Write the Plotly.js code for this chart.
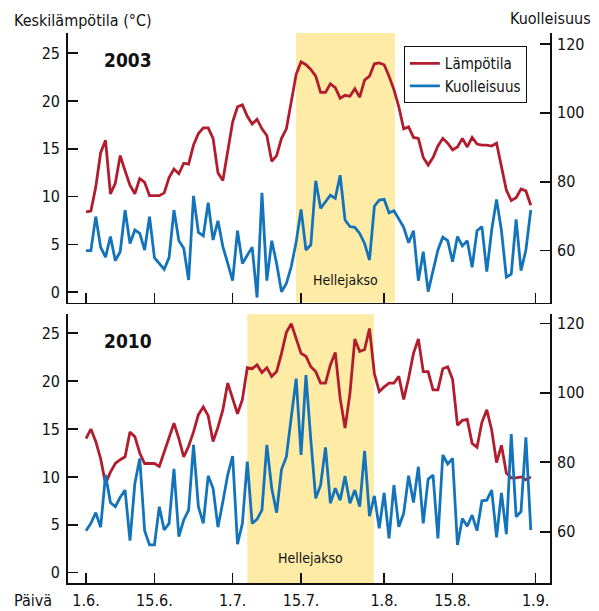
<!DOCTYPE html>
<html>
<head>
<meta charset="utf-8">
<script src="https://cdn.plot.ly/plotly-3.0.1.min.js"></script>
<style>html,body{margin:0;padding:0;background:#fff;}#chart{width:599px;height:611px;}</style>
</head>
<body>
<div id="chart"></div>
<script>
// ---- Data (daily values, 1.6. – 31.8.) ----
const temp2003 = [8.4,8.5,11.0,14.6,15.9,10.3,11.4,14.3,12.7,11.2,10.3,11.9,11.5,10.1,10.1,10.1,10.4,12.0,12.9,12.4,13.5,13.4,15.4,16.6,17.2,17.2,16.1,12.5,11.7,14.7,17.8,19.4,19.6,18.4,17.6,18.1,17.1,16.4,13.7,14.3,16.1,17.1,20.0,22.8,24.1,23.8,23.3,22.6,20.9,20.9,21.8,21.4,20.3,20.6,20.5,21.3,20.4,22.2,22.6,23.9,24.0,23.8,22.6,21.2,19.4,17.1,17.3,16.2,16.1,14.1,13.3,14.1,15.3,16.1,15.6,14.9,15.2,16.1,15.2,16.2,15.5,15.4,15.4,15.3,15.6,13.1,10.7,9.6,9.9,10.8,10.6,9.1];
const mort2003 = [60.0,60.0,69.9,61.0,58.1,64.1,57.1,59.7,71.8,62.1,66.0,65.0,60.2,69.9,58.0,56.3,54.6,58.0,71.8,62.9,60.7,51.5,75.9,65.3,64.3,73.9,63.1,68.7,61.2,56.3,51.3,65.8,56.3,58.7,61.0,46.4,76.8,51.3,62.9,56.3,48.1,50.5,55.4,62.5,72.0,60.2,61.7,80.3,72.3,74.2,76.1,75.2,81.9,68.9,67.0,66.8,65.0,62.1,57.3,72.9,74.7,74.9,71.0,71.6,69.1,66.8,62.3,65.8,51.3,59.7,48.1,54.4,60.2,63.9,62.9,56.8,64.1,61.4,62.9,55.2,65.8,67.0,53.9,66.0,74.9,65.8,52.3,53.2,69.1,54.2,60.2,71.8];
const temp2010 = [14.0,15.0,13.7,11.9,9.3,10.5,11.4,11.8,12.1,14.7,14.2,12.5,11.4,11.4,11.4,11.1,12.6,13.9,15.6,14.0,12.1,13.2,14.7,16.5,17.3,16.4,13.7,15.2,17.0,19.8,18.2,16.6,18.1,21.4,21.3,21.7,20.9,21.4,20.5,21.0,22.9,25.1,26.0,24.5,22.9,22.6,21.5,21.0,19.8,19.8,21.7,23.0,18.2,15.1,18.7,24.4,23.1,23.3,25.5,20.8,18.9,19.4,19.8,19.8,20.5,18.1,20.3,22.9,24.4,21.0,21.0,19.1,19.1,21.3,21.5,20.2,15.4,15.9,16.0,13.5,13.1,15.7,17.0,14.9,11.5,13.3,10.4,9.9,9.9,10.0,9.7,10.0];
const mort2010 = [60.3,62.4,65.5,61.3,76.4,68.4,67.2,69.9,72.0,57.4,73.9,81.1,60.3,56.2,56.2,67.2,60.5,62.4,78.1,58.6,63.4,66.2,85.0,67.2,62.4,76.1,72.5,61.3,68.6,76.4,81.8,56.4,62.4,80.2,62.4,63.6,66.2,85.0,72.5,65.5,77.9,81.6,93.0,104.1,82.1,105.1,86.4,69.6,73.4,84.3,68.2,72.5,69.1,76.0,68.2,72.0,67.2,83.3,64.5,70.3,61.0,71.2,58.1,73.4,61.4,65.3,76.1,68.4,78.7,62.4,75.1,76.3,58.1,82.1,79.5,81.1,56.2,63.8,61.6,64.8,60.3,68.9,69.1,72.0,58.4,71.2,59.3,88.1,64.3,65.8,87.2,60.5];
// day index from 1.6.
const days = temp2003.map((_, i) => i);
// heat periods (day index)
const heat2003 = [42.96, 63.2];
const heat2010 = [33.0, 58.9];
// x ticks
const xTickVals = [0, 14, 30, 44, 61, 75, 92];
const xTickText = ["1.6.", "15.6.", "1.7.", "15.7.", "1.8.", "15.8.", "1.9."];
const tempTicks = [0, 5, 10, 15, 20, 25];
const mortTicks = [60, 80, 100, 120];
const seriesNames = ["Lämpötila", "Kuolleisuus"];
const panelLabels = ["2003", "2010"];

// ---- Styles ----
const FONT = '"Liberation Sans Narrow", "DejaVu Sans Condensed", "Roboto Condensed", sans-serif';
const RED = "#b21d2d";
const BLUE = "#1474bb";
const YELLOW = "#fdeba6";
const INK = "#111";

const traces = [
  {x: days, y: temp2003, xaxis: "x", yaxis: "y", type: "scatter", mode: "lines", name: seriesNames[0],
   line: {color: RED, width: 2.8}, legendgroup: "t"},
  {x: days, y: mort2003, xaxis: "x", yaxis: "y2", type: "scatter", mode: "lines", name: seriesNames[1],
   line: {color: BLUE, width: 2.8}, legendgroup: "m"},
  {x: days, y: temp2010, xaxis: "x2", yaxis: "y3", type: "scatter", mode: "lines", name: seriesNames[0],
   line: {color: RED, width: 2.8}, showlegend: false},
  {x: days, y: mort2010, xaxis: "x2", yaxis: "y4", type: "scatter", mode: "lines", name: seriesNames[1],
   line: {color: BLUE, width: 2.8}, showlegend: false}
];

const xCommon = {
  range: [-3.68, 94.93], tickmode: "array", tickvals: xTickVals, ticktext: xTickText,
  ticks: "inside", ticklen: 10, tickwidth: 1.6, tickcolor: INK,
  showline: true, linecolor: INK, linewidth: 1.8, showgrid: false, zeroline: false,
  tickfont: {family: FONT, size: 16, color: INK}, fixedrange: true
};
const leftCommon = {
  tickmode: "array", tickvals: tempTicks, ticks: "inside", ticklen: 10, tickwidth: 1.6, tickcolor: INK,
  showline: true, linecolor: INK, linewidth: 1.8, showgrid: false, zeroline: false,
  tickfont: {family: FONT, size: 16, color: INK}, ticklabelstandoff: 3
};
const rightCommon = {
  tickmode: "array", tickvals: mortTicks, ticks: "inside", ticklen: 10, tickwidth: 1.6, tickcolor: INK,
  showline: true, linecolor: INK, linewidth: 1.8, showgrid: false, zeroline: false, side: "right",
  tickfont: {family: FONT, size: 16, color: INK}, ticklabelstandoff: 2
};

const layout = {
  width: 599, height: 611,
  margin: {l: 68, r: 49, t: 33, b: 28, pad: 0},
  paper_bgcolor: "#fff", plot_bgcolor: "rgba(0,0,0,0)",
  font: {family: FONT, size: 16, color: INK},
  showlegend: true,
  legend: {x: 0.952, y: 0.976, xanchor: "right", yanchor: "top", bgcolor: "#fff",
           bordercolor: INK, borderwidth: 1, font: {family: FONT, size: 15, color: INK},
           tracegroupgap: 0},
  xaxis: Object.assign({}, xCommon, {anchor: "y", showticklabels: false}),
  xaxis2: Object.assign({}, xCommon, {anchor: "y3", ticklabelstandoff: 2}),
  yaxis: Object.assign({}, leftCommon, {domain: [0.51, 1], range: [-1.07, 27.12], anchor: "x"}),
  yaxis2: Object.assign({}, rightCommon, {overlaying: "y", range: [44.96, 123.19], anchor: "x"}),
  yaxis3: Object.assign({}, leftCommon, {domain: [0, 0.4885], range: [-1.08, 26.98], anchor: "x2"}),
  yaxis4: Object.assign({}, rightCommon, {overlaying: "y3", range: [45.23, 122.6], anchor: "x2"}),
  shapes: [
    {type: "rect", xref: "x", yref: "y domain", x0: heat2003[0], x1: heat2003[1], y0: 0, y1: 1,
     fillcolor: YELLOW, line: {width: 0}, layer: "below"},
    {type: "rect", xref: "x2", yref: "y3 domain", x0: heat2010[0], x1: heat2010[1], y0: 0, y1: 1,
     fillcolor: YELLOW, line: {width: 0}, layer: "below"}
  ],
  annotations: [
    {text: "Keskilämpötila (°C)", xref: "paper", yref: "paper", x: -0.117, y: 1.0236,
     xanchor: "left", yanchor: "middle", showarrow: false, font: {family: FONT, size: 16, color: INK}},
    {text: "Kuolleisuus", xref: "paper", yref: "paper", x: 1.001, y: 1.0255,
     xanchor: "center", yanchor: "middle", showarrow: false, font: {family: FONT, size: 16, color: INK}},
    {text: "Päivä", xref: "paper", yref: "paper", x: -0.117, y: -0.0327,
     xanchor: "left", yanchor: "middle", showarrow: false, font: {family: FONT, size: 16, color: INK}},
    {text: "<b>" + panelLabels[0] + "</b>", xref: "paper", yref: "paper", x: 0.0699, y: 0.951,
     xanchor: "left", yanchor: "middle", showarrow: false, font: {family: FONT, size: 19, color: INK}},
    {text: "<b>" + panelLabels[1] + "</b>", xref: "paper", yref: "paper", x: 0.0699, y: 0.44,
     xanchor: "left", yanchor: "middle", showarrow: false, font: {family: FONT, size: 19, color: INK}},
    {text: "Hellejakso", xref: "x", yref: "y domain", x: (heat2003[0] + heat2003[1]) / 2, y: 0.084,
     xanchor: "center", yanchor: "middle", showarrow: false, font: {family: FONT, size: 14, color: INK}},
    {text: "Hellejakso", xref: "x2", yref: "y3 domain", x: (heat2010[0] + heat2010[1]) / 2, y: 0.092,
     xanchor: "center", yanchor: "middle", showarrow: false, font: {family: FONT, size: 14, color: INK}}
  ]
};

Plotly.newPlot("chart", traces, layout, {displayModeBar: false, staticPlot: true});
</script>
</body>
</html>
